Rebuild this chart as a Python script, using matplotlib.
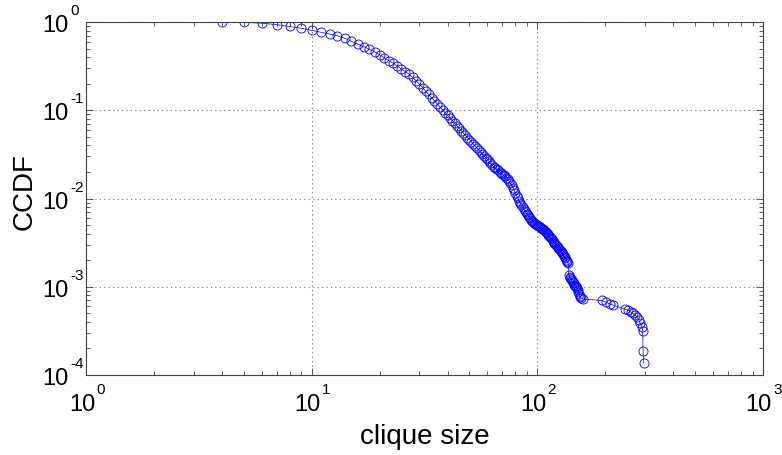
import matplotlib
matplotlib.use("Agg")
import matplotlib.pyplot as plt
import numpy as np

plt.rcParams['font.family'] = ['Liberation Sans', 'DejaVu Sans']

# clique sizes and their CCDF values
clique_size = [4, 5, 6, 7, 8, 9, 10, 11, 12, 13, 14, 15, 16, 17, 18, 19,
               20, 21, 22, 23, 24, 25, 26, 27, 28, 29, 30, 31, 32, 33, 34,
               35, 36, 37, 38, 39, 40, 41, 42, 43, 44, 45, 46, 47, 48, 49,
               50, 51, 52, 53, 54, 55, 56, 57, 58, 59, 60, 61, 62, 63, 64,
               65, 66, 67, 68, 69, 70, 71, 72, 73, 74, 75, 76, 77, 78, 79,
               80, 81, 82, 83, 84, 85, 86, 87, 88, 89, 90, 91, 92, 93, 94,
               95, 96, 97, 98, 99, 100, 101, 102, 103, 104, 105, 106, 107,
               108, 109, 110, 111, 112, 113, 114, 115, 116, 117, 118, 119,
               120, 121, 122, 123, 124, 125, 126, 127, 128, 129, 130, 131,
               132, 133, 134, 135, 136, 137, 138, 139, 140, 141, 142, 143,
               144, 145, 146, 147, 148, 149, 150, 151, 152, 153, 154, 155,
               156, 159, 193, 201, 210, 216, 244, 252, 260, 265, 271, 276,
               282, 285, 291, 293, 294, 296]
ccdf = [1.0, 0.99, 0.97, 0.935, 0.89, 0.85, 0.805, 0.765, 0.731, 0.700,
        0.654, 0.604, 0.563, 0.525, 0.492, 0.459, 0.426, 0.391, 0.364,
        0.340, 0.317, 0.293, 0.275, 0.256, 0.236, 0.216, 0.198, 0.1806,
        0.1652, 0.1516, 0.1388, 0.1280, 0.1180, 0.1091, 0.1012, 0.0940,
        0.0877, 0.0817, 0.0762, 0.0713, 0.0668, 0.0627, 0.0588, 0.0554,
        0.0522, 0.0491, 0.0464, 0.0439, 0.0416, 0.0393, 0.0373, 0.0354,
        0.0336, 0.0320, 0.0305, 0.0290, 0.0277, 0.0264, 0.0252, 0.0241,
        0.0230, 0.0223, 0.0215, 0.0208, 0.0202, 0.0195, 0.0189, 0.0183,
        0.0178, 0.0172, 0.0166, 0.0158, 0.0149, 0.0141, 0.0133, 0.0124,
        0.0116, 0.0108, 0.0101, 0.00939, 0.00891, 0.00844, 0.00803,
        0.00762, 0.00725, 0.00696, 0.00667, 0.00643, 0.00619, 0.00595,
        0.00574, 0.00553, 0.00537, 0.00528, 0.00518, 0.00509, 0.00500,
        0.00491, 0.00483, 0.00474, 0.00467, 0.00457, 0.00450, 0.00438,
        0.00426, 0.00415, 0.00404, 0.00393, 0.00383, 0.00374, 0.00363,
        0.00353, 0.00344, 0.00333, 0.00325, 0.00316, 0.00307, 0.00299,
        0.00290, 0.00283, 0.00275, 0.00268, 0.00261, 0.00254, 0.00247,
        0.00240, 0.00234, 0.00225, 0.00218, 0.00210, 0.00203, 0.00196,
        0.00190, 0.00184, 0.00136, 0.00129, 0.00126, 0.00122, 0.00119,
        0.00116, 0.00113, 0.00109, 0.00106, 0.00103, 0.00102, 0.000994,
        0.000968, 0.000919, 0.000872, 0.000828, 0.000786, 0.000765,
        0.000746, 0.000726, 0.000699, 0.000672, 0.000638, 0.000621,
        0.000560, 0.000545, 0.000517, 0.000498, 0.000479, 0.000454,
        0.000420, 0.000388, 0.000350, 0.000315, 0.000187, 0.000137]

x_exps = [0, 1, 2, 3]
y_exps = [0, -1, -2, -3, -4]

fig = plt.figure(figsize=(7.82, 4.56), dpi=100)
ax = fig.add_axes([0.110, 0.1754, 0.8657, 0.7741])

ax.loglog(clique_size, ccdf, '-o', color='#0000ff', linewidth=0.5,
          markersize=6.5, markerfacecolor='none', markeredgewidth=0.6)

ax.set_xlim(1, 1000)
ax.set_ylim(1e-4, 1)
ax.set_xticks([10.0 ** e for e in x_exps])
ax.set_yticks([10.0 ** e for e in y_exps])
ax.set_xticklabels([])
ax.set_yticklabels([])
ax.grid(True, which='major', linestyle=(0, (1, 3)), color='#707070', linewidth=0.8)
ax.tick_params(which='both', direction='in', top=True, right=True,
               color='#404040', width=0.6)
ax.tick_params(which='major', length=5)
ax.tick_params(which='minor', length=3)
for s in ax.spines.values():
    s.set_color('#404040')
    s.set_linewidth(0.8)

# matlab style tick labels: big "10" with a raised exponent
for e in x_exps:
    ax.annotate('10', xy=(10.0 ** e, 0), xycoords=('data', 'axes fraction'),
                xytext=(9, -29), textcoords='offset pixels',
                ha='right', va='center', fontsize=17)
    ax.annotate(str(e), xy=(10.0 ** e, 0), xycoords=('data', 'axes fraction'),
                xytext=(10, -14), textcoords='offset pixels',
                ha='left', va='center', fontsize=11)
for e in y_exps:
    ax.annotate('10', xy=(0, 10.0 ** e), xycoords=('axes fraction', 'data'),
                xytext=(-18, -3), textcoords='offset pixels',
                ha='right', va='center', fontsize=17)
    ax.annotate(str(e), xy=(0, 10.0 ** e), xycoords=('axes fraction', 'data'),
                xytext=(-16, 12), textcoords='offset pixels',
                ha='left', va='center', fontsize=11)

#labels
ax.annotate('clique size', xy=(0.5, 0), xycoords='axes fraction',
            xytext=(0, -61), textcoords='offset pixels',
            ha='center', va='center', fontsize=20)
ax.annotate('CCDF', xy=(0, 0.5), xycoords='axes fraction',
            xytext=(-61, 8), textcoords='offset pixels',
            ha='center', va='center', rotation=90, fontsize=20)

plt.savefig('out.png', dpi=100)
